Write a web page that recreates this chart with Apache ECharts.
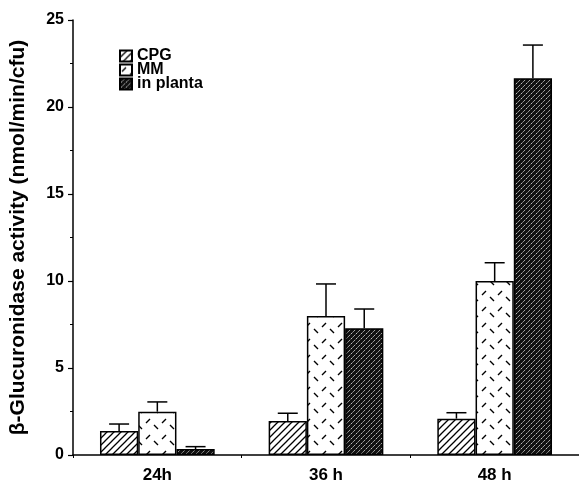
<!DOCTYPE html>
<html>
<head>
<meta charset="utf-8">
<script src="https://cdn.jsdelivr.net/npm/echarts@6/dist/echarts.min.js"></script>
<style>
html,body{margin:0;padding:0;background:#fff;}
#chart{width:579px;height:485px;}
</style>
</head>
<body>
<div id="chart"></div>
<script>
// ---- data ----
var categories = ['24h', '36 h', '48 h'];
var seriesNames = ['CPG', 'MM', 'in planta'];
var cpg = [1.38, 1.95, 2.09];
var cpgErr = [0.40, 0.45, 0.34];
var mm = [2.49, 7.99, 10.0];
var mmErr = [0.56, 1.84, 1.05];
var inPlanta = [0.34, 7.28, 21.65];
var inPlantaErr = [0.14, 1.11, 1.91];
var yTicks = [0, 5, 10, 15, 20, 25];

// ---- patterns ----
function makeCanvas(w, h) {
  var c = document.createElement('canvas');
  c.width = w; c.height = h;
  return c;
}
function hatchPattern() {
  var s = 7, c = makeCanvas(s, s), g = c.getContext('2d');
  g.fillStyle = '#fff'; g.fillRect(0, 0, s, s);
  g.strokeStyle = '#000'; g.lineWidth = 1.3;
  g.beginPath();
  g.moveTo(-1, s + 1); g.lineTo(s + 1, -1);
  g.moveTo(-1 - s, s + 1); g.lineTo(1, -1);
  g.moveTo(s - 1, s + 1); g.lineTo(2 * s + 1, -1);
  g.stroke();
  return c;
}
function dashPattern() {
  var s = 16, c = makeCanvas(s, s), g = c.getContext('2d');
  g.fillStyle = '#fff'; g.fillRect(0, 0, s, s);
  g.strokeStyle = '#000'; g.lineWidth = 1.4;
  g.beginPath();
  g.moveTo(2, 7); g.lineTo(6, 3);
  g.moveTo(10, 9); g.lineTo(14, 13);
  g.stroke();
  return c;
}
function darkPattern() {
  var s = 5, c = makeCanvas(s, s), g = c.getContext('2d');
  g.fillStyle = '#111'; g.fillRect(0, 0, s, s);
  g.strokeStyle = '#fff'; g.lineWidth = 0.9;
  g.setLineDash([1.5, 1]);
  g.beginPath();
  g.moveTo(-1, s + 1); g.lineTo(s + 1, -1);
  g.stroke();
  return c;
}
var patterns = [hatchPattern(), dashPattern(), darkPattern()];
var values = [cpg, mm, inPlanta];
var errors = [cpgErr, mmErr, inPlantaErr];

var FONT = '"Liberation Sans", Arial, Helvetica, sans-serif';
var chart = echarts.init(document.getElementById('chart'), null, {renderer: 'canvas'});

var catGapFrac = 0.32;
var series = [];
seriesNames.forEach(function (name, i) {
  series.push({
    name: name,
    type: 'bar',
    data: values[i],
    barGap: '0%',
    barCategoryGap: (catGapFrac * 100) + '%',
    itemStyle: {
      color: {image: patterns[i], repeat: 'repeat'},
      borderColor: '#000',
      borderWidth: 1.5
    },
    emphasis: {disabled: true},
    z: 2
  });
});
seriesNames.forEach(function (name, i) {
  series.push({
    type: 'custom',
    z: 3,
    silent: true,
    data: values[i].map(function (v, k) { return [k, v, v + errors[i][k]]; }),
    renderItem: function (params, api) {
      var k = api.value(0);
      var base = api.coord([k, api.value(1)]);
      var top = api.coord([k, api.value(2)]);
      var band = api.size([1, 0])[0];
      var bw = band * (1 - catGapFrac) / 3;
      var x = base[0] + (i - 1) * bw;
      var cap = 10;
      return {
        type: 'group',
        children: [
          {type: 'line', shape: {x1: x, y1: base[1], x2: x, y2: top[1]}, style: {stroke: '#000', lineWidth: 1.5}},
          {type: 'line', shape: {x1: x - cap, y1: top[1], x2: x + cap, y2: top[1]}, style: {stroke: '#000', lineWidth: 1.5}}
        ]
      };
    }
  });
});

chart.setOption({
  animation: false,
  backgroundColor: '#fff',
  grid: {left: 72, top: 20, width: 510, height: 435, containLabel: false},
  legend: {
    data: seriesNames,
    orient: 'vertical',
    left: 114,
    top: 43,
    itemWidth: 12,
    itemHeight: 11,
    itemGap: -2,
    icon: 'rect',
    textStyle: {fontFamily: FONT, fontWeight: 'bold', fontSize: 16, lineHeight: 14, color: '#000'}
  },
  xAxis: {
    type: 'category',
    data: categories,
    axisLine: {lineStyle: {color: '#000', width: 1.5}},
    axisTick: {show: true, length: 3, lineStyle: {color: '#000'}},
    axisLabel: {fontFamily: FONT, fontWeight: 'bold', fontSize: 17, color: '#000', margin: 12},
    splitLine: {show: false}
  },
  yAxis: {
    type: 'value',
    min: 0, max: 25, interval: 5,
    name: 'β-Glucuronidase activity (nmol/min/cfu)',
    nameLocation: 'middle',
    nameGap: 44,
    nameTextStyle: {fontFamily: FONT, fontWeight: 'bold', fontSize: 21, color: '#000'},
    axisLine: {show: true, lineStyle: {color: '#000', width: 1.5}},
    axisTick: {show: true, length: 5, lineStyle: {color: '#000', width: 1.2}},
    minorTick: {show: true, splitNumber: 2, length: 3, lineStyle: {color: '#000'}},
    axisLabel: {
      fontFamily: FONT, fontWeight: 'bold', fontSize: 16, color: '#000', margin: 9,
      formatter: function (v) { return yTicks.indexOf(v) >= 0 ? String(v) : ''; }
    },
    splitLine: {show: false}
  },
  series: series
});
</script>
</body>
</html>
